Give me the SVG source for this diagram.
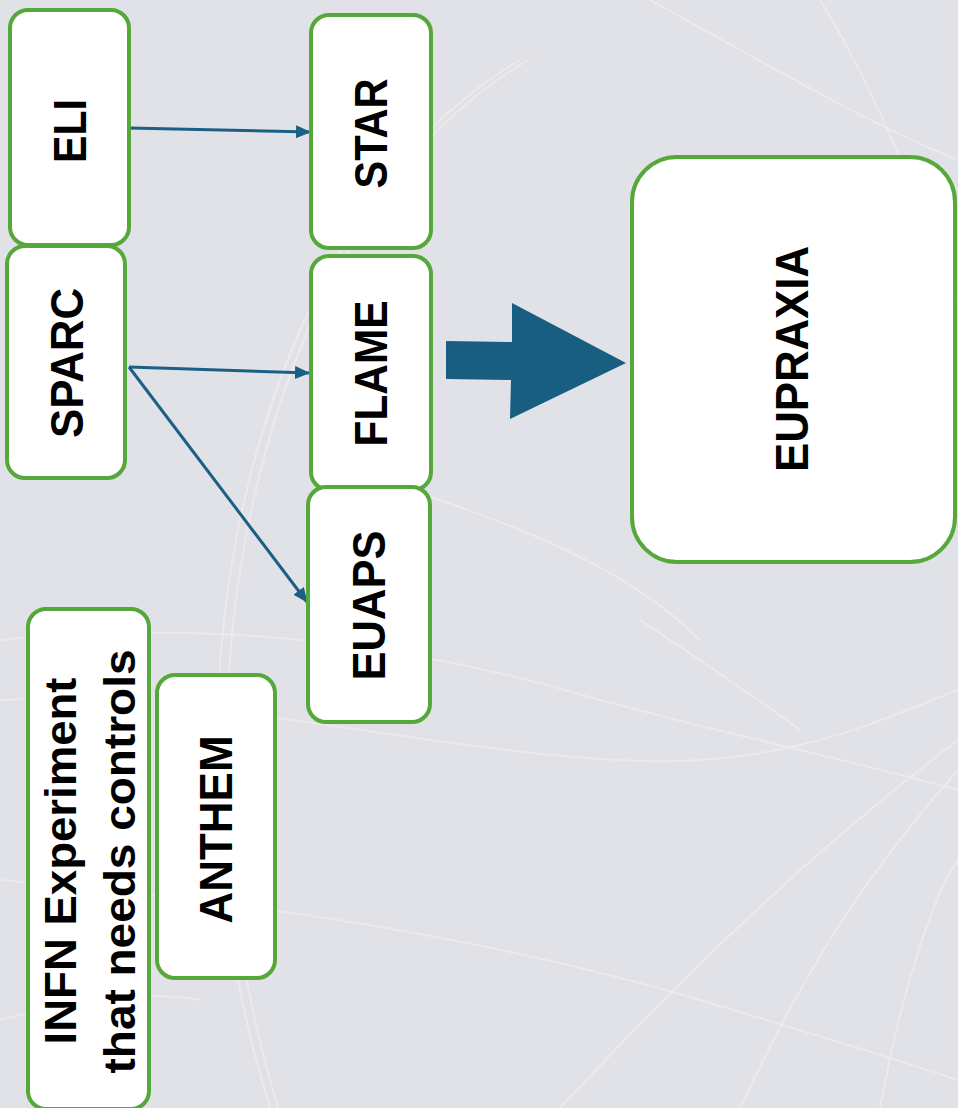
<svg xmlns="http://www.w3.org/2000/svg" width="958" height="1108" viewBox="0 0 958 1108">
<style>
.box{fill:#ffffff;stroke:#56a83a;stroke-width:4}
.lbl{font-family:"Liberation Sans",Arial,sans-serif;font-weight:bold;font-size:46px;fill:#000;text-anchor:middle}
.conn{stroke:#1a5f84;stroke-width:3;fill:none}
.trk{fill:none;stroke:#f4f3ee;stroke-opacity:0.55;stroke-width:2}
</style>
<defs>
<marker id="ah" markerUnits="userSpaceOnUse" markerWidth="15" markerHeight="13" refX="14" refY="6.5" orient="auto">
<path d="M0,0 L15,6.5 L0,13 Z" fill="#1a5f84"/>
</marker>
</defs>
<rect x="0" y="0" width="958" height="1108" fill="#e1e1e8"/>
<g id="background-tracks">
<path class="trk" d="M270,1108 C190,850 200,560 300,330 C360,200 420,120 520,60"/>
<path class="trk" d="M278,1108 C200,850 210,560 308,330 C368,200 428,120 528,60"/>
<path class="trk" d="M0,640 C200,620 400,640 600,700 C750,740 850,760 958,790"/>
<path class="trk" d="M0,700 C200,690 420,750 620,760 C780,770 880,720 958,690"/>
<path class="trk" d="M0,880 C250,900 500,940 700,1000 C800,1030 900,1060 958,1080"/>
<path class="trk" d="M560,1108 C680,980 800,860 958,740"/>
<path class="trk" d="M740,1108 C800,980 860,880 958,770"/>
<path class="trk" d="M880,1108 C900,1000 930,900 958,860"/>
<path class="trk" d="M640,620 C700,660 760,700 800,730"/>
<path class="trk" d="M380,480 C500,520 620,560 700,640"/>
<path class="trk" d="M650,0 C760,60 860,120 958,160"/>
<path class="trk" d="M820,0 C870,80 920,200 958,300"/>
<path class="trk" d="M0,1020 C80,1000 150,990 200,1000"/>
</g>
<g id="connectors">
<line class="conn" x1="129" y1="128" x2="310" y2="132" marker-end="url(#ah)"/>
<line class="conn" x1="129" y1="367" x2="309" y2="373" marker-end="url(#ah)"/>
<line class="conn" x1="129" y1="367" x2="307" y2="602" marker-end="url(#ah)"/>
<polygon points="446,341 512,342 512,303 626,363 510,419 511,380 446,379" fill="#175e80"/>
</g>
<g id="node-eli">
<rect class="box" x="10" y="10" width="119" height="235" rx="18"/>
<text class="lbl" transform="translate(86,131) rotate(-90)" textLength="64" lengthAdjust="spacingAndGlyphs">ELI</text>
</g>
<g id="node-sparc">
<rect class="box" x="7" y="246" width="118" height="232" rx="18"/>
<text class="lbl" transform="translate(83,363) rotate(-90)" textLength="150" lengthAdjust="spacingAndGlyphs">SPARC</text>
</g>
<g id="node-star">
<rect class="box" x="311" y="15" width="120" height="233" rx="18"/>
<text class="lbl" transform="translate(387,133.5) rotate(-90)" textLength="110" lengthAdjust="spacingAndGlyphs">STAR</text>
</g>
<g id="node-flame">
<rect class="box" x="311" y="256" width="120" height="234" rx="18"/>
<text class="lbl" transform="translate(387,373.5) rotate(-90)" textLength="146" lengthAdjust="spacingAndGlyphs">FLAME</text>
</g>
<g id="node-euaps">
<rect class="box" x="308" y="487" width="122" height="235" rx="18"/>
<text class="lbl" transform="translate(385,605.5) rotate(-90)" textLength="150" lengthAdjust="spacingAndGlyphs">EUAPS</text>
</g>
<g id="node-infn">
<rect class="box" x="28" y="609" width="121" height="500" rx="18"/>
<text class="lbl" style="font-size:44px" transform="translate(76,861) rotate(-90)" textLength="367" lengthAdjust="spacingAndGlyphs">INFN Experiment</text>
<text class="lbl" style="font-size:44px" transform="translate(135,861.5) rotate(-90)" textLength="424" lengthAdjust="spacingAndGlyphs">that needs controls</text>
</g>
<g id="node-anthem">
<rect class="box" x="157" y="675" width="118" height="303" rx="18"/>
<text class="lbl" transform="translate(232,829.5) rotate(-90)" textLength="188" lengthAdjust="spacingAndGlyphs">ANTHEM</text>
</g>
<g id="node-eupraxia">
<rect class="box" x="632" y="157" width="323" height="405" rx="45"/>
<text class="lbl" transform="translate(808,359) rotate(-90)" textLength="226" lengthAdjust="spacingAndGlyphs">EUPRAXIA</text>
</g>
</svg>
